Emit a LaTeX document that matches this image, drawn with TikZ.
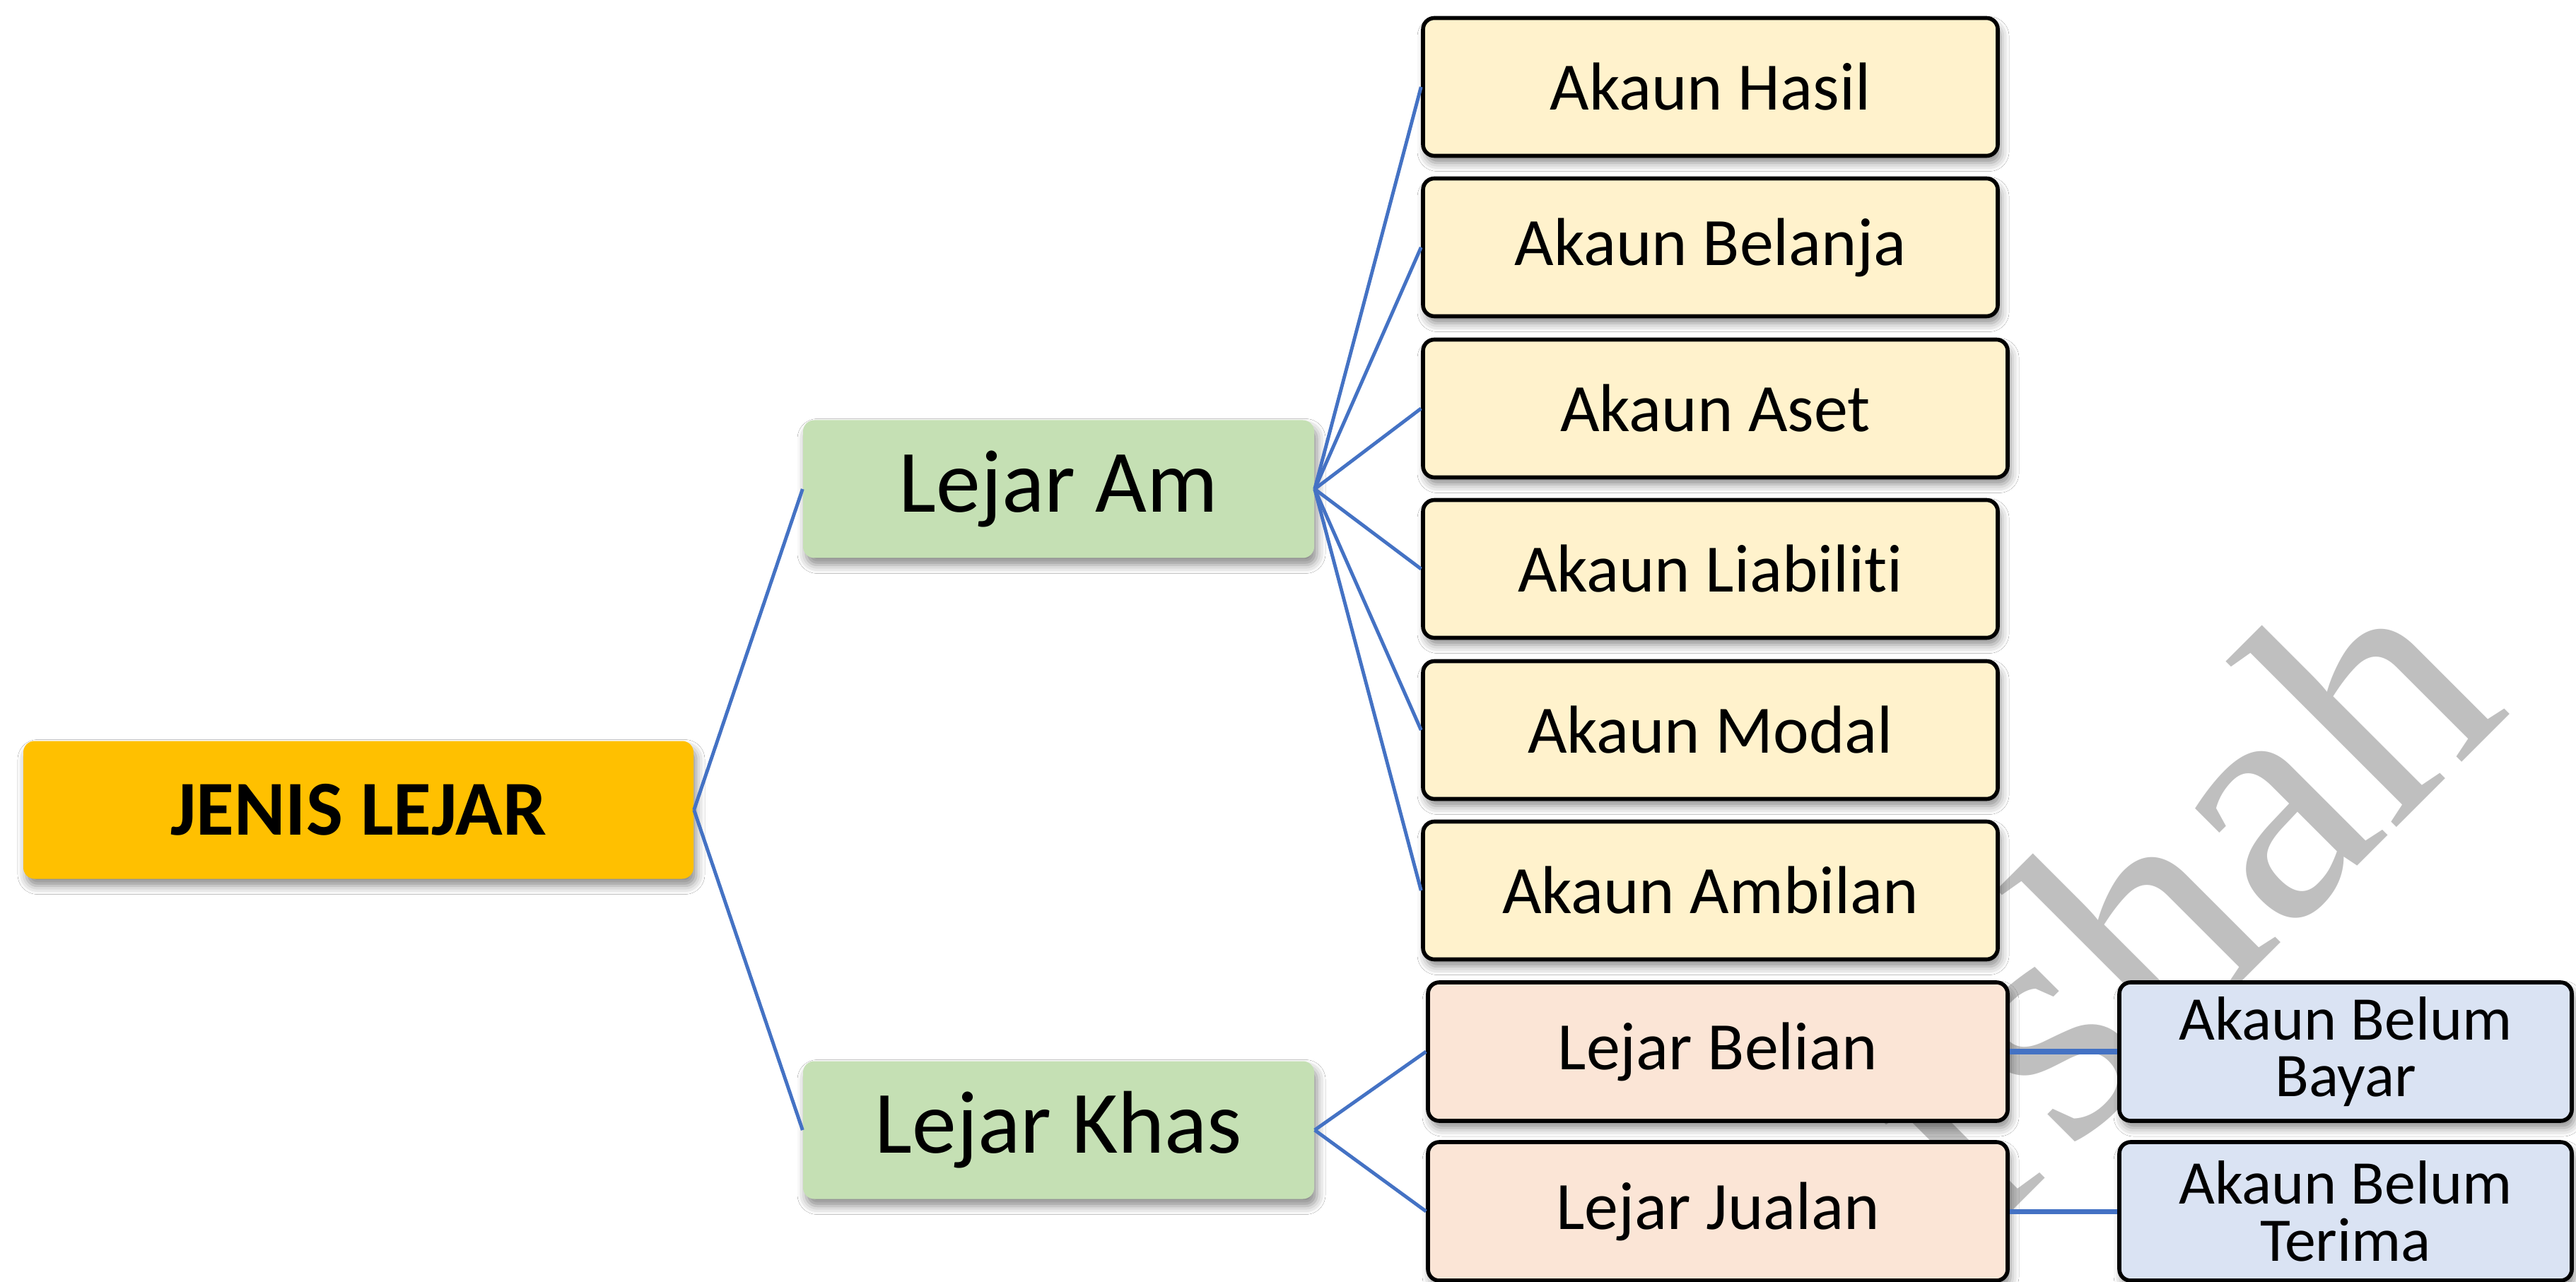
\documentclass[tikz,border=0pt]{standalone}
\usepackage{fontspec}
\setmainfont{Carlito}[Ligatures=NoCommon]
\newfontfamily\markfont{Liberation Serif}
\usetikzlibrary{shadows.blur}

\definecolor{rootfill}{HTML}{FFC000}
\definecolor{levelfill}{HTML}{C5E0B4}
\definecolor{acctfill}{HTML}{FFF2CC}
\definecolor{ledgerfill}{HTML}{FBE5D6}
\definecolor{debtfill}{HTML}{DAE3F3}
\definecolor{linkblue}{HTML}{4472C4}
\definecolor{markgrey}{HTML}{BFBFBF}

\tikzset{
  boxbase/.style={rectangle, rounded corners=0.16cm, align=center, inner sep=0pt,
    blur shadow={shadow xshift=0.04cm, shadow yshift=-0.1cm,
                 shadow blur radius=0.12cm, shadow opacity=45}},
  rootbox/.style={boxbase, fill=rootfill, minimum width=9.48cm, minimum height=1.95cm,
    font=\bfseries\fontsize{31.3pt}{36pt}\selectfont},
  levelbox/.style={boxbase, fill=levelfill, minimum width=7.23cm, minimum height=1.95cm,
    font=\fontsize{35.8pt}{40pt}\selectfont},
  acctbox/.style={boxbase, draw=black, line width=1.6pt, fill=acctfill,
    minimum width=8.13cm, minimum height=1.95cm,
    font=\fontsize{27.3pt}{32pt}\selectfont},
  ledgerbox/.style={acctbox, fill=ledgerfill, minimum width=8.2cm, minimum height=1.96cm},
  debtbox/.style={acctbox, fill=debtfill, minimum width=6.4cm, minimum height=1.96cm,
    font=\fontsize{25pt}{23pt}\selectfont},
  link/.style={draw=linkblue, line width=1.4pt},
  hlink/.style={link, line width=2pt},
  watermark/.style={inner sep=0pt, text=markgrey,
    font=\markfont\fontsize{138pt}{138pt}\selectfont}
}

\begin{document}
\begin{tikzpicture}
\useasboundingbox (0,0) rectangle (36.44,-18.14);
\clip (0,0) rectangle (36.44,-18.14);
\fill[white] (0,0) rectangle (36.44,-18.14);

% name mark lying under everything else
\node[watermark, anchor=base east, rotate=45] (mark) at (35.55,-10.05) {Arshah};

% root and the two ledger groups
\node[rootbox] (root) at (5.07,-11.46) {JENIS LEJAR};
\node[levelbox] (am) at (14.975,-6.92) {Lejar Am};
\node[levelbox] (khas) at (14.975,-15.99) {Lejar Khas};

% accounts of the general ledger
\node[acctbox] (hasil) at (24.195,-1.23) {Akaun Hasil};
\node[acctbox] (belanja) at (24.195,-3.50) {Akaun Belanja};
\node[acctbox, minimum width=8.27cm] (aset) at (24.265,-5.78) {Akaun Aset};
\node[acctbox] (liabiliti) at (24.195,-8.05) {Akaun Liabiliti};
\node[acctbox] (modal) at (24.195,-10.33) {Akaun Modal};
\node[acctbox] (ambilan) at (24.195,-12.60) {Akaun Ambilan};

% subsidiary ledgers and their control accounts
\node[ledgerbox] (belian) at (24.30,-14.88) {Lejar Belian};
\node[ledgerbox] (jualan) at (24.30,-17.14) {Lejar Jualan};
\node[debtbox] (bayar) at (33.18,-14.88) {Akaun Belum\\Bayar};
\node[debtbox] (terima) at (33.18,-17.14) {Akaun Belum\\Terima};

% connectors, edge to edge
\draw[link] (root.east) -- (am.west);
\draw[link] (root.east) -- (khas.west);
\foreach \n in {hasil,belanja,aset,liabiliti,modal,ambilan}
  \draw[link] (am.east) -- (\n.west);
\draw[link] (khas.east) -- (belian.west);
\draw[link] (khas.east) -- (jualan.west);
\draw[hlink] (belian.east) -- (bayar.west);
\draw[hlink] (jualan.east) -- (terima.west);
\end{tikzpicture}
\end{document}
